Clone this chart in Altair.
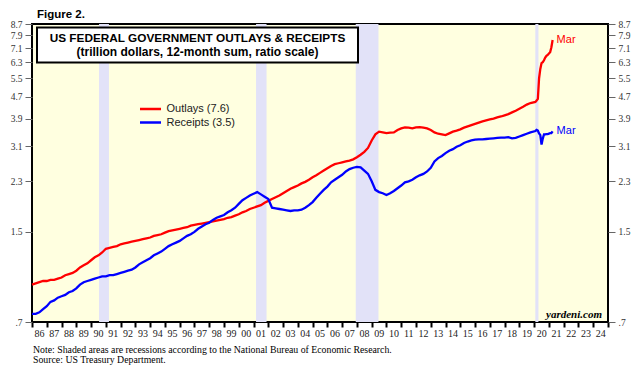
import altair as alt
import pandas as pd

# ---------------- data ----------------
# quarterly 12-month sums, 1986Q1 .. 2019Q4 (trillion dollars)
outlays_q = [
    0.96, 0.97, 0.98, 0.99,   # 1986
    0.99, 1.00, 1.00, 1.01,   # 1987
    1.02, 1.04, 1.05, 1.06,   # 1988
    1.08, 1.11, 1.13, 1.15,   # 1989
    1.18, 1.21, 1.23, 1.26,   # 1990
    1.30, 1.31, 1.32, 1.33,   # 1991
    1.35, 1.36, 1.37, 1.38,   # 1992
    1.39, 1.40, 1.41, 1.42,   # 1993
    1.43, 1.45, 1.46, 1.47,   # 1994
    1.49, 1.51, 1.52, 1.53,   # 1995
    1.54, 1.55, 1.56, 1.58,   # 1996
    1.59, 1.60, 1.61, 1.62,   # 1997
    1.63, 1.64, 1.65, 1.66,   # 1998
    1.67, 1.69, 1.70, 1.72,   # 1999
    1.74, 1.77, 1.79, 1.82,   # 2000
    1.84, 1.86, 1.88, 1.92,   # 2001
    1.95, 1.98, 2.01, 2.04,   # 2002
    2.08, 2.12, 2.16, 2.19,   # 2003
    2.22, 2.26, 2.29, 2.33,   # 2004
    2.38, 2.42, 2.47, 2.52,   # 2005
    2.57, 2.62, 2.66, 2.68,   # 2006
    2.70, 2.72, 2.74, 2.77,   # 2007
    2.82, 2.88, 2.95, 3.05,   # 2008
    3.25, 3.42, 3.50, 3.48,   # 2009
    3.46, 3.47, 3.48, 3.55,   # 2010
    3.60, 3.63, 3.62, 3.60,   # 2011
    3.63, 3.64, 3.62, 3.60,   # 2012
    3.55, 3.48, 3.44, 3.42,   # 2013
    3.40, 3.45, 3.50, 3.53,   # 2014
    3.57, 3.62, 3.66, 3.70,   # 2015
    3.74, 3.78, 3.82, 3.85,   # 2016
    3.88, 3.91, 3.95, 3.98,   # 2017
    4.02, 4.06, 4.12, 4.18,   # 2018
    4.25, 4.32, 4.40, 4.46,   # 2019
]
receipts_q = [
    0.75, 0.75, 0.76, 0.78,   # 1986
    0.80, 0.83, 0.84, 0.86,   # 1987
    0.87, 0.88, 0.90, 0.91,   # 1988
    0.93, 0.96, 0.98, 0.99,   # 1989
    1.00, 1.01, 1.02, 1.03,   # 1990
    1.03, 1.04, 1.04, 1.05,   # 1991
    1.06, 1.07, 1.08, 1.09,   # 1992
    1.11, 1.14, 1.16, 1.18,   # 1993
    1.20, 1.23, 1.25, 1.27,   # 1994
    1.30, 1.33, 1.35, 1.37,   # 1995
    1.39, 1.42, 1.45, 1.47,   # 1996
    1.50, 1.54, 1.57, 1.60,   # 1997
    1.62, 1.66, 1.69, 1.71,   # 1998
    1.73, 1.77, 1.80, 1.84,   # 1999
    1.90, 1.96, 2.00, 2.04,   # 2000
    2.07, 2.10, 2.06, 2.02,   # 2001
    1.98, 1.84, 1.83, 1.82,   # 2002
    1.81, 1.80, 1.79, 1.80,   # 2003
    1.80, 1.81, 1.84, 1.88,   # 2004
    1.93, 2.00, 2.07, 2.14,   # 2005
    2.20, 2.28, 2.33, 2.38,   # 2006
    2.43, 2.50, 2.55, 2.58,   # 2007
    2.60, 2.59, 2.52, 2.45,   # 2008
    2.30, 2.14, 2.10, 2.08,   # 2009
    2.05, 2.08, 2.12, 2.17,   # 2010
    2.22, 2.28, 2.30, 2.33,   # 2011
    2.38, 2.42, 2.45, 2.50,   # 2012
    2.58, 2.72, 2.80, 2.85,   # 2013
    2.92, 2.98, 3.02, 3.08,   # 2014
    3.12, 3.18, 3.22, 3.25,   # 2015
    3.27, 3.28, 3.28, 3.29,   # 2016
    3.30, 3.31, 3.32, 3.33,   # 2017
    3.33, 3.34, 3.31, 3.32,   # 2018
    3.36, 3.40, 3.44, 3.48,   # 2019
]
# monthly 12-month sums, Jan 2020 .. Mar 2021
outlays_m = [4.50, 4.55, 4.62, 5.50, 5.95, 6.25, 6.30, 6.40, 6.55,
             6.65, 6.70, 6.78, 6.85, 7.15, 7.60]
receipts_m = [3.52, 3.55, 3.53, 3.45, 3.40, 3.14, 3.30, 3.42, 3.42,
              3.43, 3.43, 3.44, 3.46, 3.46, 3.51]

rec_start = [1990.54, 2001.17, 2007.92, 2020.08]
rec_end = [1991.21, 2001.88, 2009.46, 2020.29]

y_ticks = [0.7, 1.5, 2.3, 3.1, 3.9, 4.7, 5.5, 6.3, 7.1, 7.9, 8.7]
x_ticks = list(range(1986, 2026))

series_names = ["Outlays", "Receipts"]
series_colors = ["#FF0000", "#0000FF"]

# ---------------- frames ----------------
t_q = [1986 + i * 0.25 for i in range(len(outlays_q))]
t_m = [2020 + (i + 1) / 12 for i in range(len(outlays_m))]
t_all = t_q + t_m
out_all = outlays_q + outlays_m
rec_all = receipts_q + receipts_m

df = pd.DataFrame({
    "t": t_all + t_all,
    "v": out_all + rec_all,
    "s": ["Outlays"] * len(t_all) + ["Receipts"] * len(t_all),
})
last = pd.DataFrame({"t": [t_all[-1], t_all[-1]],
                     "v": [out_all[-1], rec_all[-1]],
                     "s": series_names})
rec_df = pd.DataFrame({"a": rec_start, "b": rec_end})

W, H = 576, 298
SERIF = "Liberation Serif"
SANS = "Liberation Sans"

xscale = alt.Scale(domain=[1986, 2025], nice=False, zero=False)
yscale = alt.Scale(type="log", domain=[0.7, 8.7], nice=False)
color = alt.Color("s:N", scale=alt.Scale(domain=series_names, range=series_colors), legend=None)

xaxis = alt.Axis(values=x_ticks, labelExpr="datum.value < 2025 ? format(datum.value % 100, '02d') : ''",
                 labelOffset=7, tickSize=5, tickWidth=2, tickColor="black", domain=False,
                 grid=False, title=None, labelFont=SERIF, labelFontSize=10, labelColor="#222",
                 labelPadding=1, labelOverlap=False, labelFlush=False, labelBound=False)

def yaxis(orient):
    return alt.Axis(orient=orient, values=y_ticks,
                    labelExpr="datum.value < 1 ? '.7' : format(datum.value, '.1f')",
                    tickSize=7, tickColor="#666", tickWidth=1, domain=False, grid=False, title=None,
                    labelFont=SERIF, labelFontSize=9.5, labelColor="#333", labelPadding=3,
                    labelOverlap=False, labelFlush=False, labelBound=False)

X = alt.X("t:Q", scale=xscale, axis=xaxis)

recess = alt.Chart(rec_df).mark_rect(color="#E2E2F8").encode(
    x=alt.X("a:Q", scale=xscale, axis=xaxis), x2="b:Q",
    y=alt.value(0), y2=alt.value(H))

lines = alt.Chart(df).mark_line(strokeWidth=2.3).encode(
    x=X, y=alt.Y("v:Q", scale=yscale, axis=yaxis("left")), color=color, detail="s:N")

right = alt.Chart(df).mark_line(opacity=0).encode(
    x=X, y=alt.Y("v:Q", scale=yscale, axis=yaxis("right")), detail="s:N")

mar = alt.Chart(last).mark_text(align="left", baseline="middle", dx=4, font=SANS, fontSize=11).encode(
    x=X, y=alt.Y("v:Q", scale=yscale, axis=None), color=color, text=alt.value("Mar"))

def txt(s, x, y, size, color="black", weight="normal", font=SANS, align="left", style="normal", baseline="middle"):
    return alt.Chart(pd.DataFrame({"k": [0]})).mark_text(
        text=s, align=align, baseline=baseline, font=font, fontSize=size,
        fontWeight=weight, fontStyle=style, color=color
    ).encode(x=alt.value(x), y=alt.value(y))

box = alt.Chart(pd.DataFrame({"k": [0]})).mark_rect(fill="white", stroke="black", strokeWidth=2).encode(
    x=alt.value(5), x2=alt.value(326), y=alt.value(3.5), y2=alt.value(38.5))

def legline(y, c):
    return alt.Chart(pd.DataFrame({"k": [0]})).mark_rule(color=c, strokeWidth=2.5).encode(
        x=alt.value(108), x2=alt.value(129), y=alt.value(y))

layers = [
    recess, lines, right, mar, box,
    txt("US FEDERAL GOVERNMENT OUTLAYS & RECEIPTS", 165.5, 14, 11.8, weight="bold", align="center"),
    txt("(trillion dollars, 12-month sum, ratio scale)", 165.5, 28, 12, weight="bold", align="center"),
    legline(85, "#FF0000"), legline(98.5, "#0000FF"),
    txt("Outlays (7.6)", 134.5, 85, 11, color="#222"),
    txt("Receipts (3.5)", 134.5, 98.5, 11, color="#222"),
    txt("yardeni.com", 570, 294, 11, weight="bold", font=SERIF, align="right", style="italic", baseline="alphabetic"),
    txt("Figure 2.", 5, -15.5, 11.5, weight="bold", baseline="top"),
    txt("Note: Shaded areas are recessions according to the National Bureau of Economic Research.", 1, 328.5, 9.8, font=SERIF, baseline="alphabetic"),
    txt("Source: US Treasury Department.", 1, 338.5, 9.8, font=SERIF, baseline="alphabetic"),
]

chart = alt.layer(*layers).resolve_scale(y="shared").resolve_axis(y="independent").properties(
    width=W, height=H,
    autosize=alt.AutoSizeParams(type="none"),
    padding={"left": 24, "top": 16, "right": 25, "bottom": 43},
).configure_view(fill="#FFFFE0", stroke="black", strokeWidth=2)

chart.save("out.html", embed_options={"renderer": "svg", "actions": False})
